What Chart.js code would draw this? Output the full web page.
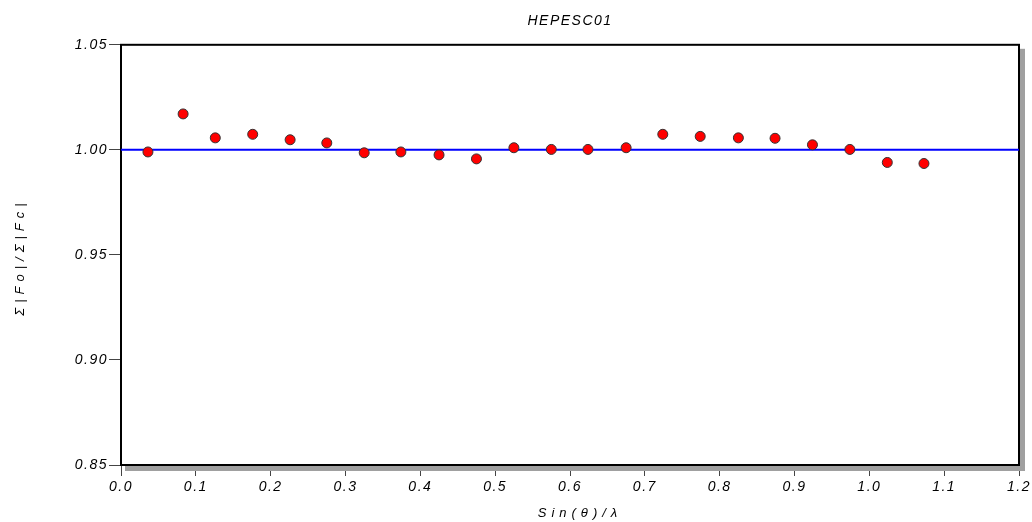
<!DOCTYPE html>
<html>
<head>
<meta charset="utf-8">
<script src="https://cdn.jsdelivr.net/npm/chart.js@4/dist/chart.umd.min.js"></script>
<style>
  html, body { margin: 0; padding: 0; background: #fff; }
  #wrap { width: 1032px; height: 522px; }
</style>
</head>
<body>
<div id="wrap"><canvas id="myChart" width="1032" height="522"></canvas></div>
<script>
// values
var chartTitle = 'HEPESC01';
var xTitle = 'Sin(\u03b8)/\u03bb';
var yTitle = '\u03a3|Fo|/\u03a3|Fc|';

var sinThetaLambda = [0.036, 0.083, 0.126, 0.176, 0.226, 0.275, 0.325, 0.374, 0.425, 0.475, 0.525,
                      0.575, 0.624, 0.675, 0.724, 0.774, 0.825, 0.874, 0.924, 0.974, 1.024, 1.073];
var foFcRatio = [0.9990, 1.0171, 1.0057, 1.0074, 1.0048, 1.0033, 0.9986, 0.9990, 0.9976, 0.9957, 1.0010,
                 1.0002, 1.0002, 1.0010, 1.0074, 1.0064, 1.0057, 1.0055, 1.0024, 1.0002, 0.9940, 0.9935];

var refX = [0, 1.2];
var refY = [1.0, 1.0];

var xMin = 0, xMax = 1.2, xStep = 0.1;
var yMin = 0.85, yMax = 1.05, yStep = 0.05;

var points = sinThetaLambda.map(function(x, i) { return {x: x, y: foFcRatio[i]}; });
var refLine = refX.map(function(x, i) { return {x: x, y: refY[i]}; });

var fontFamily = '"Liberation Sans", Arial, sans-serif';

// frame with grey drop shadow, plus spaced axis titles
var framePlugin = {
  id: 'frame',
  beforeDraw: function(chart) {
    chart.ctx.letterSpacing = '1.5px';
  },
  beforeDatasetsDraw: function(chart) {
    var ctx = chart.ctx, a = chart.chartArea;
    ctx.save();
    ctx.fillStyle = '#a0a0a0';
    ctx.fillRect(a.right + 1, a.top + 4, 5, a.bottom - a.top + 2);
    ctx.fillRect(a.left + 4, a.bottom + 1, a.right - a.left + 2, 5);
    ctx.strokeStyle = '#000';
    ctx.lineWidth = 2;
    ctx.strokeRect(a.left, a.top, a.right - a.left, a.bottom - a.top);
    ctx.restore();
  },
  afterDraw: function(chart) {
    var ctx = chart.ctx;
    ctx.save();
    ctx.letterSpacing = '5px';
    ctx.fillStyle = '#000';
    ctx.font = 'italic 13px ' + fontFamily;
    ctx.textAlign = 'center';
    ctx.textBaseline = 'middle';
    ctx.fillText(xTitle, 580, 513);
    ctx.translate(20, 257);
    ctx.rotate(-Math.PI / 2);
    ctx.fillText(yTitle, 0, 0);
    ctx.restore();
  }
};

var ctx = document.getElementById('myChart');
var myChart = new Chart(ctx, {
  type: 'scatter',
  data: {
    datasets: [{
      type: 'line',
      data: refLine,
      borderColor: '#0000ff',
      borderWidth: 2,
      pointRadius: 0,
      fill: false,
      order: 2
    }, {
      data: points,
      backgroundColor: '#ff0000',
      borderColor: '#333333',
      borderWidth: 1,
      pointRadius: 5,
      order: 1
    }]
  },
  options: {
    responsive: false,
    animation: false,
    layout: { padding: { left: 0, right: 13, top: 0, bottom: 0 } },
    plugins: {
      legend: { display: false },
      tooltip: { enabled: false },
      title: {
        display: true,
        text: chartTitle,
        fullSize: false,
        color: '#000',
        font: { family: fontFamily, size: 14, style: 'italic', weight: 'normal' },
        padding: { top: 13, bottom: 15 }
      }
    },
    scales: {
      x: {
        type: 'linear',
        min: xMin, max: xMax,
        afterFit: function(s) { s.height = 57; },
        border: { display: false },
        grid: { drawOnChartArea: false, drawTicks: true, tickLength: 11, color: '#444' },
        ticks: {
          stepSize: xStep,
          padding: 3,
          color: '#000',
          font: { family: fontFamily, size: 14, style: 'italic' },
          callback: function(v) { return v.toFixed(1); }
        }
      },
      y: {
        type: 'linear',
        min: yMin, max: yMax,
        afterFit: function(s) { s.width = 121; },
        border: { display: false },
        grid: { drawOnChartArea: false, drawTicks: true, tickLength: 12, color: '#444' },
        ticks: {
          stepSize: yStep,
          padding: 1,
          color: '#000',
          font: { family: fontFamily, size: 14, style: 'italic' },
          callback: function(v) { return v.toFixed(2); }
        }
      }
    }
  },
  plugins: [framePlugin]
});
</script>
</body>
</html>
